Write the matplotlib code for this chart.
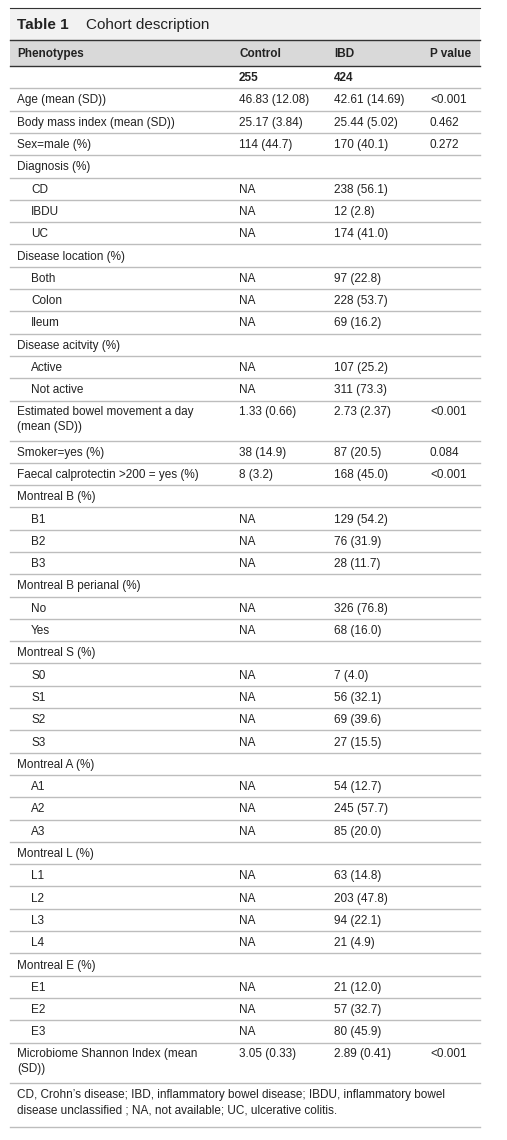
import matplotlib.pyplot as plt

title_num = "Table 1"
title_txt = "Cohort description"
headers = ["Phenotypes", "Control", "IBD", "P value"]
counts = ["", "255", "424", ""]

# (label, control, ibd, p, indent, two_lines)
rows = [
    ("Age (mean (SD))", "46.83 (12.08)", "42.61 (14.69)", "<0.001", 0, False),
    ("Body mass index (mean (SD))", "25.17 (3.84)", "25.44 (5.02)", "0.462", 0, False),
    ("Sex=male (%)", "114 (44.7)", "170 (40.1)", "0.272", 0, False),
    ("Diagnosis (%)", "", "", "", 0, False),
    ("CD", "NA", "238 (56.1)", "", 1, False),
    ("IBDU", "NA", "12 (2.8)", "", 1, False),
    ("UC", "NA", "174 (41.0)", "", 1, False),
    ("Disease location (%)", "", "", "", 0, False),
    ("Both", "NA", "97 (22.8)", "", 1, False),
    ("Colon", "NA", "228 (53.7)", "", 1, False),
    ("Ileum", "NA", "69 (16.2)", "", 1, False),
    ("Disease acitvity (%)", "", "", "", 0, False),
    ("Active", "NA", "107 (25.2)", "", 1, False),
    ("Not active", "NA", "311 (73.3)", "", 1, False),
    ("Estimated bowel movement a day\n(mean (SD))", "1.33 (0.66)", "2.73 (2.37)", "<0.001", 0, True),
    ("Smoker=yes (%)", "38 (14.9)", "87 (20.5)", "0.084", 0, False),
    ("Faecal calprotectin >200 = yes (%)", "8 (3.2)", "168 (45.0)", "<0.001", 0, False),
    ("Montreal B (%)", "", "", "", 0, False),
    ("B1", "NA", "129 (54.2)", "", 1, False),
    ("B2", "NA", "76 (31.9)", "", 1, False),
    ("B3", "NA", "28 (11.7)", "", 1, False),
    ("Montreal B perianal (%)", "", "", "", 0, False),
    ("No", "NA", "326 (76.8)", "", 1, False),
    ("Yes", "NA", "68 (16.0)", "", 1, False),
    ("Montreal S (%)", "", "", "", 0, False),
    ("S0", "NA", "7 (4.0)", "", 1, False),
    ("S1", "NA", "56 (32.1)", "", 1, False),
    ("S2", "NA", "69 (39.6)", "", 1, False),
    ("S3", "NA", "27 (15.5)", "", 1, False),
    ("Montreal A (%)", "", "", "", 0, False),
    ("A1", "NA", "54 (12.7)", "", 1, False),
    ("A2", "NA", "245 (57.7)", "", 1, False),
    ("A3", "NA", "85 (20.0)", "", 1, False),
    ("Montreal L (%)", "", "", "", 0, False),
    ("L1", "NA", "63 (14.8)", "", 1, False),
    ("L2", "NA", "203 (47.8)", "", 1, False),
    ("L3", "NA", "94 (22.1)", "", 1, False),
    ("L4", "NA", "21 (4.9)", "", 1, False),
    ("Montreal E (%)", "", "", "", 0, False),
    ("E1", "NA", "21 (12.0)", "", 1, False),
    ("E2", "NA", "57 (32.7)", "", 1, False),
    ("E3", "NA", "80 (45.9)", "", 1, False),
    ("Microbiome Shannon Index (mean\n(SD))", "3.05 (0.33)", "2.89 (0.41)", "<0.001", 0, True),
]
footnote = ("CD, Crohn\u2019s disease; IBD, inflammatory bowel disease; IBDU, inflammatory bowel\n"
            "disease unclassified ; NA, not available; UC, ulcerative colitis.")

W, H = 507, 1140
plt.rcParams['font.family'] = ['Liberation Sans', 'DejaVu Sans']
fig = plt.figure(figsize=(W / 100, H / 100), dpi=100)
ax = fig.add_axes([0, 0, 1, 1])
ax.set_xlim(0, W)
ax.set_ylim(H, 0)
ax.axis('off')

x0, x1 = 10, 480
colx = [17, 239, 334, 430]
fs = 8.5
line_c = "#bdbdbd"
dark = "#333333"
tc = "#222222"

# title band
ax.fill_between([x0, x1], 8, 40, color="#f2f2f2", lw=0)
ax.plot([x0, x1], [8, 8], color=dark, lw=0.8)
ax.text(17, 25, title_num, fontsize=11, fontweight='bold', va='center', color=tc)
ax.text(86, 25, title_txt, fontsize=11, va='center', color=tc)
# header band
ax.fill_between([x0, x1], 40, 66, color="#d9d9d9", lw=0)
ax.plot([x0, x1], [40, 40], color=dark, lw=1.0)
ax.plot([x0, x1], [66, 66], color=dark, lw=1.0)
for x, h in zip(colx, headers):
    ax.text(x, 54, h, fontsize=fs, fontweight='bold', va='center', color=tc)

s = 22.3
y = 66
for x, c in zip(colx, counts):
    ax.text(x, y + s / 2 + 1, c, fontsize=fs, fontweight='bold', va='center', color=tc)
y += s
ax.plot([x0, x1], [y, y], color=line_c, lw=1)

for label, c, i, p, ind, two in rows:
    h = 40 if two else s
    if two:
        ty, va = y + 5, 'top'
    else:
        ty, va = y + h / 2 + 1, 'center'
    ax.text(colx[0] + 14 * ind, ty, label, fontsize=fs, va=va, color=tc, linespacing=1.35)
    for x, v in zip(colx[1:], [c, i, p]):
        ax.text(x, ty, v, fontsize=fs, va=va, color=tc)
    y += h
    ax.plot([x0, x1], [y, y], color=line_c, lw=1)

ax.text(17, y + 6, footnote, fontsize=fs, va='top', color=tc, linespacing=1.4)
ax.plot([x0, x1], [y + 44, y + 44], color=line_c, lw=1)

fig.savefig("out.png", dpi=100)
